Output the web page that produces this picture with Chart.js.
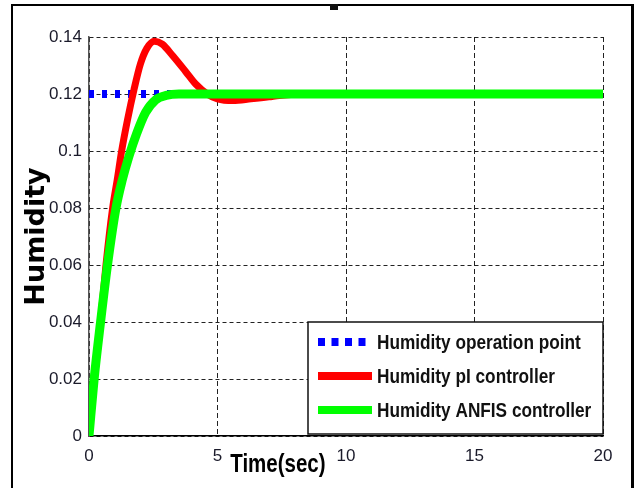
<!DOCTYPE html>
<html>
<head>
<meta charset="utf-8">
<script src="https://cdn.jsdelivr.net/npm/chart.js@4.4.0/dist/chart.umd.min.js"></script>
<style>
  html, body { margin: 0; padding: 0; background: #fff; }
  #wrap { width: 634px; height: 488px; position: relative; }
</style>
</head>
<body>
<div id="wrap"><canvas id="myCanvas" width="634" height="488"></canvas></div>
<script>
// axis ticks
const xTicks = [0, 5, 10, 15, 20];
const yTicks = [0, 0.02, 0.04, 0.06, 0.08, 0.1, 0.12, 0.14];
const yTickLabels = ['0', '0.02', '0.04', '0.06', '0.08', '0.1', '0.12', '0.14'];

const seriesNames = ['Humidity operation point', 'Humidity pI controller', 'Humidity ANFIS controller'];

// operation point (set point)
const timeSetpoint = [0, 20];
const humiditySetpoint = [0.12, 0.12];

// PI controller response
const timePI = [0, 0.2, 0.45, 0.66, 0.92, 1.1, 1.27, 1.5, 1.75, 2.0, 2.25, 2.55, 2.85, 3.25, 3.75, 4.15, 4.6, 5.0, 5.6, 6.3, 7.0, 7.4, 8.5, 20];
const humidityPI = [0.008, 0.02, 0.04, 0.06, 0.08, 0.09, 0.1, 0.111, 0.1215, 0.1305, 0.136, 0.1385, 0.1375, 0.1335, 0.128, 0.1235, 0.12, 0.1183, 0.1177, 0.1183, 0.119, 0.1195, 0.12, 0.12];

// ANFIS controller response
const timeANFIS = [0, 0.2, 0.45, 0.72, 1.05, 1.3, 1.55, 1.85, 2.2, 2.6, 3.0, 3.5, 20];
const humidityANFIS = [0, 0.02, 0.04, 0.06, 0.08, 0.09, 0.098, 0.106, 0.1135, 0.118, 0.1195, 0.12, 0.12];

const sansFont = '"Liberation Sans", Arial, sans-serif';

function toPoints(xs, ys) {
    var pts = new Array();
    for (var i = 0; i < xs.length; i++) {
        pts.push({x: xs[i], y: ys[i]});
    }
    return pts;
}

// squeeze text horizontally to get an Arial Narrow look
function narrowText(c, text, x, y, align) {
    c.save();
    c.translate(x, y);
    c.scale(0.82, 1);
    c.textAlign = align;
    c.fillText(text, 0, 0);
    c.restore();
}

// outer frame of the figure
const frame = {
    id: 'frame',
    beforeDraw(chart) {
        const c = chart.ctx;
        c.save();
        c.fillStyle = '#fff';
        c.fillRect(0, 0, chart.width, chart.height);
        c.strokeStyle = '#000';
        c.lineWidth = 2;
        c.beginPath();
        c.moveTo(12, chart.height);
        c.lineTo(12, 5);
        c.lineTo(chart.width, 5);
        c.stroke();
        c.lineWidth = 3;
        c.beginPath();
        c.moveTo(632.5, 5);
        c.lineTo(632.5, chart.height);
        c.stroke();
        c.fillStyle = '#111';
        c.fillRect(330, 4, 8, 6);
        c.restore();
    }
};

// x axis title, sitting between the 5 and 10 ticks
const xTitle = {
    id: 'xTitle',
    afterDraw(chart) {
        const c = chart.ctx;
        const xs = chart.scales.x;
        c.save();
        c.font = 'bold 25px ' + sansFont;
        c.fillStyle = '#000';
        c.textBaseline = 'middle';
        narrowText(c, 'Time(sec)', xs.getPixelForValue(7.35), 465, 'center');
        c.restore();
    }
};

// boxed legend in the lower right corner of the plot
const boxLegend = {
    id: 'boxLegend',
    afterDatasetsDraw(chart) {
        const c = chart.ctx;
        const area = chart.chartArea;
        const w = 295, h = 112;
        const x0 = area.right - w, y0 = area.bottom - h - 2;
        c.save();
        c.fillStyle = '#fff';
        c.fillRect(x0, y0, w, h);
        c.strokeStyle = '#111';
        c.lineWidth = 1.5;
        c.strokeRect(x0, y0, w, h);
        c.font = 'bold 21px ' + sansFont;
        c.textBaseline = 'middle';
        chart.data.datasets.forEach(function(ds, i) {
            const y = y0 + 20 + i * 34;
            c.beginPath();
            c.setLineDash(ds.legendDash || []);
            c.lineWidth = 8;
            c.strokeStyle = ds.borderColor;
            c.moveTo(x0 + 10, y);
            c.lineTo(x0 + 64, y);
            c.stroke();
            c.setLineDash([]);
            c.fillStyle = '#111';
            narrowText(c, ds.label, x0 + 69, y + 1, 'left');
        });
        c.restore();
    }
};

const canvas = document.getElementById('myCanvas');
const ctx = canvas.getContext('2d');

Chart.defaults.font.family = sansFont;

let chart = new Chart(ctx, {
    type: 'line',
    data: {
        datasets: [{
            label: seriesNames[0],
            data: toPoints(timeSetpoint, humiditySetpoint),
            borderColor: '#0000ff',
            borderWidth: 8,
            borderDash: [5, 8],
            legendDash: [7, 6.5],
            pointRadius: 0,
            order: 3
        }, {
            label: seriesNames[1],
            data: toPoints(timePI, humidityPI),
            borderColor: '#ff0000',
            borderWidth: 7,
            cubicInterpolationMode: 'monotone',
            pointRadius: 0,
            order: 2
        }, {
            label: seriesNames[2],
            data: toPoints(timeANFIS, humidityANFIS),
            borderColor: '#00ff00',
            borderWidth: 9,
            cubicInterpolationMode: 'monotone',
            pointRadius: 0,
            order: 1
        }]
    },
    options: {
        responsive: false,
        animation: false,
        devicePixelRatio: 1,
        layout: {
            padding: {top: 37, right: 31, left: 0, bottom: 0}
        },
        plugins: {
            legend: {display: false},
            tooltip: {enabled: false}
        },
        scales: {
            x: {
                type: 'linear',
                min: 0,
                max: 20,
                afterBuildTicks: function(s) { s.ticks = xTicks.map(v => ({value: v})); },
                afterFit: function(s) { s.height = 52; },
                ticks: {
                    color: '#1a1a2a',
                    padding: 10,
                    maxRotation: 0,
                    font: {size: 17},
                    callback: function(v) { return String(v); }
                },
                grid: {color: '#222', lineWidth: 1, drawTicks: false},
                border: {display: true, color: '#000', width: 1.5, dash: [5, 3]}
            },
            y: {
                type: 'linear',
                min: 0,
                max: 0.14,
                afterBuildTicks: function(s) { s.ticks = yTicks.map(v => ({value: v})); },
                afterFit: function(s) { s.width = 89; },
                ticks: {
                    color: '#1a1a2a',
                    padding: 7,
                    font: {size: 17},
                    callback: function(v, i) { return yTickLabels[i]; }
                },
                grid: {color: '#222', lineWidth: 1, drawTicks: false},
                border: {display: true, color: '#555', width: 1.5, dash: [4, 3]},
                title: {
                    display: true,
                    text: 'Humidity',
                    color: '#000',
                    padding: {top: 21, bottom: 0},
                    font: {family: '"DejaVu Sans", sans-serif', weight: 'bold', size: 27}
                }
            }
        }
    },
    plugins: [frame, boxLegend, xTitle]
});
</script>
</body>
</html>
